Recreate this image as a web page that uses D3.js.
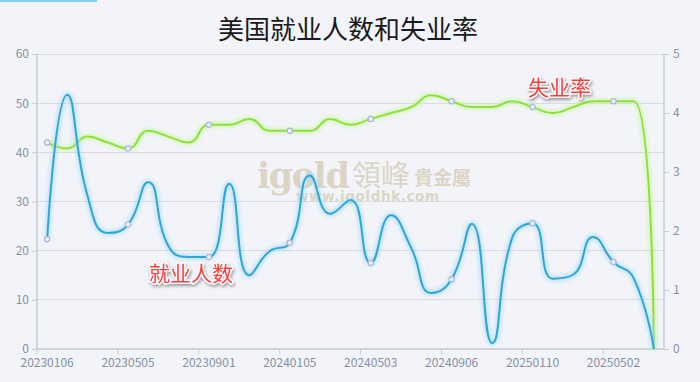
<!DOCTYPE html>
<html><head><meta charset="utf-8">
<script src="https://cdn.jsdelivr.net/npm/d3@7/dist/d3.min.js"></script>
<style>
html,body{margin:0;padding:0;background:#f3f4f9;}
svg{display:block;}
</style></head>
<body><svg id="c" width="700" height="382"></svg>
<script>
const categories = ["20230106","20230203","20230310","20230407","20230505","20230602","20230707","20230804","20230901","20231006","20231103","20231208","20240105","20240202","20240308","20240405","20240503","20240607","20240705","20240802","20240906","20241004","20241101","20241206","20250110","20250207","20250307","20250404","20250502","20250606","20250703"];
const jobs = [22.3,51.7,31.1,23.6,25.3,33.9,20.9,18.7,18.7,33.6,15.0,19.9,21.6,35.3,27.5,30.3,17.5,27.2,20.6,11.4,14.2,25.4,1.2,22.7,25.6,14.3,15.1,22.8,17.7,14.4,0];
const unemp = [3.5,3.4,3.6,3.5,3.4,3.7,3.6,3.5,3.8,3.8,3.9,3.7,3.7,3.7,3.9,3.8,3.9,4.0,4.1,4.3,4.2,4.1,4.1,4.2,4.1,4.0,4.1,4.2,4.2,4.2,0];
const leftTicks = [0,10,20,30,40,50,60];
const rightTicks = [0,1,2,3,4,5];
const title = "美国就业人数和失业率";

const font = '"Noto Sans CJK SC","Noto Sans",sans-serif';
const svg = d3.select("#c");
const L = 37, R = 664, T = 54, B = 349;

// ECharts-like smooth curve
function ESmooth(ctx){ this._context = ctx; }
ESmooth.prototype = {
  areaStart(){}, areaEnd(){},
  lineStart(){ this._pts = []; },
  point(x,y){ this._pts.push([+x,+y]); },
  lineEnd(){
    const p = this._pts, ctx = this._context, smooth = 0.5, n = p.length;
    if(!n) return;
    let prevX, prevY, cpx0, cpy0, cpx1, cpy1;
    const mn = Math.min, mx = Math.max;
    for(let i=0;i<n;i++){
      const x=p[i][0], y=p[i][1];
      if(i===0){ ctx.moveTo(x,y); cpx0=x; cpy0=y; }
      else {
        let nextCpx0, nextCpy0;
        if(i+1>=n){ cpx1=x; cpy1=y; }
        else {
          const nextX=p[i+1][0], nextY=p[i+1][1];
          let vx=nextX-prevX, vy=nextY-prevY;
          const dx0=x-prevX, dx1=nextX-x, dy0=y-prevY, dy1=nextY-y;
          const lp=Math.sqrt(dx0*dx0+dy0*dy0), ln=Math.sqrt(dx1*dx1+dy1*dy1);
          const r = ln/(ln+lp);
          cpx1 = x - vx*smooth*(1-r); cpy1 = y - vy*smooth*(1-r);
          nextCpx0 = x + vx*smooth*r; nextCpy0 = y + vy*smooth*r;
          nextCpx0 = mn(nextCpx0, mx(nextX,x)); nextCpy0 = mn(nextCpy0, mx(nextY,y));
          nextCpx0 = mx(nextCpx0, mn(nextX,x)); nextCpy0 = mx(nextCpy0, mn(nextY,y));
          vx = nextCpx0-x; vy = nextCpy0-y;
          cpx1 = x - vx*lp/ln; cpy1 = y - vy*lp/ln;
          cpx1 = mn(cpx1, mx(prevX,x)); cpy1 = mn(cpy1, mx(prevY,y));
          cpx1 = mx(cpx1, mn(prevX,x)); cpy1 = mx(cpy1, mn(prevY,y));
          vx = x-cpx1; vy = y-cpy1;
          nextCpx0 = x + vx*ln/lp; nextCpy0 = y + vy*ln/lp;
        }
        ctx.bezierCurveTo(cpx0,cpy0,cpx1,cpy1,x,y);
        cpx0=nextCpx0; cpy0=nextCpy0;
      }
      prevX=x; prevY=y;
    }
  }
};
const curveE = ctx => new ESmooth(ctx);

const x = d3.scaleBand().domain(categories).range([L,R]).padding(0);
const cx = d => x(d) + x.bandwidth()/2;
const yL = d3.scaleLinear().domain([0,60]).range([B,T]);
const yR = d3.scaleLinear().domain([0,5]).range([B,T]);

const defs = svg.append("defs");
const glow = defs.append("filter").attr("id","glow").attr("x","-10%").attr("y","-10%").attr("width","120%").attr("height","120%");
glow.append("feGaussianBlur").attr("stdDeviation",2);
const sh = defs.append("filter").attr("id","tsh").attr("x","-20%").attr("y","-30%").attr("width","140%").attr("height","170%");
sh.append("feDropShadow").attr("dx",1).attr("dy",2).attr("stdDeviation",1.5).attr("flood-color","#555").attr("flood-opacity",0.55);

// top accent bar
svg.append("rect").attr("x",0).attr("y",0).attr("width",97).attr("height",2).attr("fill","#82d2ef");

// title
svg.append("text").attr("x",348).attr("y",39).attr("text-anchor","middle")
  .attr("font-family",font).attr("font-size",26).attr("fill","#1a1a1a").text(title);

// grid
svg.append("g").selectAll("line").data(leftTicks).join("line")
  .attr("x1",L).attr("x2",R).attr("y1",d=>yL(d)).attr("y2",d=>yL(d))
  .attr("stroke","#d9dbe0").attr("stroke-width",1).attr("shape-rendering","crispEdges");

// watermark
const wm = svg.append("g").attr("fill","#dcd4c4");
wm.append("text").attr("x",257).attr("y",188).attr("font-family","'DejaVu Serif',serif").attr("font-weight","bold").attr("font-size",35).attr("letter-spacing",-1.5).text("igold");
wm.append("text").attr("x",352).attr("y",186).attr("font-family",font).attr("font-size",29).text("領峰");
wm.append("text").attr("x",414).attr("y",185).attr("font-family",font).attr("font-weight","bold").attr("font-size",19).text("貴金屬");
wm.append("text").attr("x",296).attr("y",201).attr("font-family","'DejaVu Sans',sans-serif").attr("font-weight","bold").attr("font-size",13.5).attr("letter-spacing",0.6).text("www.igoldhk.com");

// axes
const axisColor = "#c9ccd2", labelColor = "#8590a3";
const gL = svg.append("g").attr("transform",`translate(${L},0)`)
  .call(d3.axisLeft(yL).tickValues(leftTicks).tickSize(5).tickPadding(3));
const gR = svg.append("g").attr("transform",`translate(${R},0)`)
  .call(d3.axisRight(yR).tickValues(rightTicks).tickFormat(d3.format("d")).tickSize(5).tickPadding(4));
const shownIdx = categories.map((d,i)=>i).filter(i=>i%4===0);
const gB = svg.append("g").attr("transform",`translate(0,${B})`)
  .call(d3.axisBottom(x).tickValues(shownIdx.map(i=>categories[i])).tickSize(0).tickPadding(9));
gB.selectAll(".tick line").remove();
svg.append("g").selectAll("line").data(shownIdx).join("line")
  .attr("x1",i=>x(categories[i])).attr("x2",i=>x(categories[i]))
  .attr("y1",B).attr("y2",B+5).attr("stroke",axisColor);
[gL,gR,gB].forEach(g=>{
  g.selectAll(".domain").attr("stroke",axisColor).attr("stroke-width",1.5);
  g.selectAll(".tick line").attr("stroke",axisColor);
  g.selectAll("text").attr("fill",labelColor).attr("font-family",font).attr("font-size",12);
});
gL.select(".domain").attr("d",`M0,${T}V${B}`);
gR.select(".domain").attr("d",`M0,${T}V${B}`);
gB.select(".domain").attr("d",`M${L},0H${R}`);

// lines
const lineJ = d3.line().x((d,i)=>cx(categories[i])).y(d=>yL(d)).curve(curveE);
const lineU = d3.line().x((d,i)=>cx(categories[i])).y(d=>yR(d)).curve(curveE);
const series = [
  {data:unemp, gen:lineU, color:"#8be23c", glow:"#c8f59a", y:yR},
  {data:jobs, gen:lineJ, color:"#2ea7d7", glow:"#9fd8f5", y:yL}
];
series.forEach(s=>{
  svg.append("path").attr("d",s.gen(s.data)).attr("fill","none").attr("stroke",s.glow)
    .attr("stroke-width",5).attr("opacity",0.7).attr("filter","url(#glow)");
  svg.append("path").attr("d",s.gen(s.data)).attr("fill","none").attr("stroke",s.color)
    .attr("stroke-width",2);
});
series.forEach(s=>{
  svg.append("g").selectAll("circle").data(shownIdx).join("circle")
    .attr("cx",i=>cx(categories[i])).attr("cy",i=>s.y(s.data[i])).attr("r",2.6)
    .attr("fill","#eef1fb").attr("stroke","#a9b5e3").attr("stroke-width",1.2);
});

// series labels
const lab = [{t:"就业人数", x:149, y:281},{t:"失业率", x:528, y:95}];
svg.append("g").selectAll("text").data(lab).join("text")
  .attr("x",d=>d.x).attr("y",d=>d.y).attr("font-family",font).attr("font-size",21)
  .attr("fill","#ff3b3b").attr("stroke","#ffffff").attr("stroke-width",3)
  .attr("paint-order","stroke").attr("stroke-linejoin","round")
  .attr("filter","url(#tsh)").text(d=>d.t);
</script></body></html>
